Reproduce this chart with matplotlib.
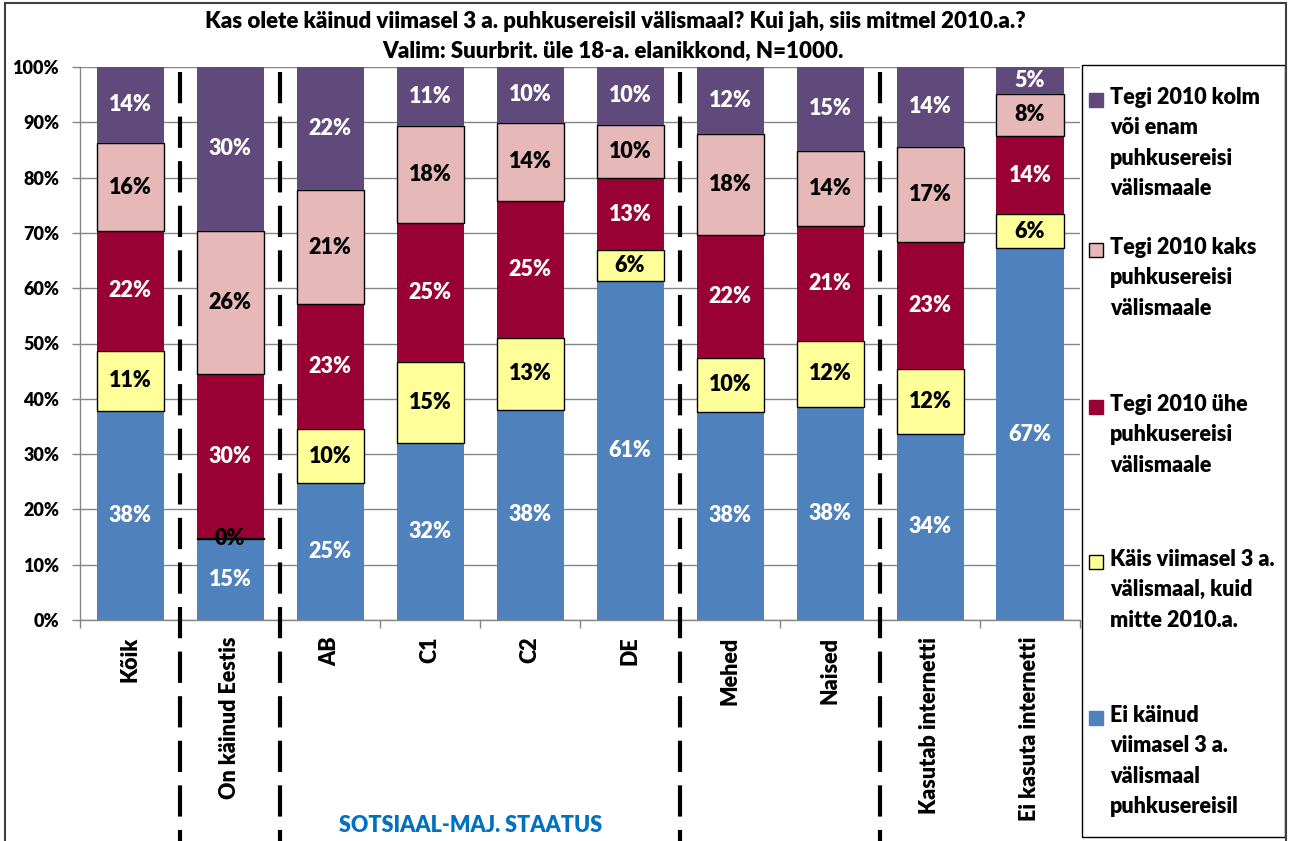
import numpy as np
import matplotlib
matplotlib.use('Agg')
import matplotlib.pyplot as plt
from matplotlib.patches import Rectangle

plt.rcParams['font.family'] = ['Lato', 'DejaVu Sans']
BOLD = 'heavy'
plt.rcParams['font.weight'] = BOLD

categories = ['Kõik', 'On käinud Eestis', 'AB', 'C1', 'C2', 'DE',
              'Mehed', 'Naised', 'Kasutab internetti', 'Ei kasuta internetti']

# shares in % (bottom to top)
ei_kainud = [37.8, 14.7, 24.7, 32.0, 38.0, 61.3, 37.7, 38.5, 33.7, 67.2]
kais_mitte_2010 = [10.9, 0.1, 9.8, 14.7, 13.0, 5.6, 9.7, 12.0, 11.6, 6.2]
uks_reis = [21.6, 29.6, 22.6, 25.0, 24.8, 13.0, 22.2, 20.7, 23.0, 14.1]
kaks_reisi = [16.0, 26.0, 20.7, 17.6, 14.1, 9.7, 18.2, 13.7, 17.3, 7.7]
kolm_voi_enam = [13.7, 29.6, 22.2, 10.7, 10.1, 10.4, 12.2, 15.1, 14.4, 4.8]

series = [
    (ei_kainud, 'Ei käinud\nviimasel 3 a.\nvälismaal\npuhkusereisil', '#4F81BD', 'none', 'white'),
    (kais_mitte_2010, 'Käis viimasel 3 a.\nvälismaal, kuid\nmitte 2010.a.', '#FFFF99', 'black', 'black'),
    (uks_reis, 'Tegi 2010 ühe\npuhkusereisi\nvälismaale', '#990033', 'none', 'white'),
    (kaks_reisi, 'Tegi 2010 kaks\npuhkusereisi\nvälismaale', '#E6B9B8', 'black', 'black'),
    (kolm_voi_enam, 'Tegi 2010 kolm\nvõi enam\npuhkusereisi\nvälismaale', '#604A7B', 'none', 'white'),
]

separators = [0.5, 1.5, 5.5, 7.5]

W, H = 1290, 841
fig = plt.figure(figsize=(W / 100, H / 100), dpi=100)
ax = fig.add_axes([80 / W, 1 - 620 / H, 1000 / W, 553 / H])

x = np.arange(len(categories))
bottom = np.zeros(len(categories))
for vals, label, color, edge, tcolor in series:
    vals = np.array(vals)
    ax.bar(x, vals, 0.67, bottom=bottom, color=color, edgecolor=edge,
           linewidth=1.0, zorder=2)
    for xi, b, v in zip(x, bottom, vals):
        ax.text(xi, b + v / 2, f'{v:.0f}%', ha='center', va='center',
                color=tcolor, fontsize=15.5, fontweight=BOLD, zorder=4)
    bottom += vals

ax.set_xlim(-0.5, len(categories) - 0.5)
ax.set_ylim(0, 100)
ax.set_yticks(np.arange(0, 101, 10))
ax.set_yticklabels([f'{v}%' for v in range(0, 101, 10)])
ax.yaxis.grid(True, color='#868686', linewidth=1.0)
ax.set_axisbelow(True)

ax.set_xticks(x)
ax.set_xticklabels(categories, rotation=90, va='top', ha='center')
ax.set_xticks(np.arange(-0.5, len(categories)), minor=True)
ax.tick_params(axis='x', which='major', length=0, pad=12, labelsize=15.5)
ax.tick_params(axis='x', which='minor', length=6, color='#868686', width=1)
ax.tick_params(axis='y', length=6, color='#868686', width=1, pad=9, labelsize=13)
for lab in ax.get_xticklabels() + ax.get_yticklabels():
    lab.set_fontweight(BOLD)

for s in ['top', 'right']:
    ax.spines[s].set_visible(False)
for s in ['left', 'bottom']:
    ax.spines[s].set_color('#868686')
    ax.spines[s].set_linewidth(1.0)

# dashed group separators
for sx in separators:
    ax.plot([sx, sx], [1 - 5 / 553, -0.42], transform=ax.get_xaxis_transform(),
            color='black', linewidth=3.0, linestyle=(0, (7.5, 3.2)),
            clip_on=False, zorder=5)

fig.text(615 / W, 1 - 22 / H,
         'Kas olete käinud viimasel 3 a. puhkusereisil välismaal? Kui jah, siis mitmel 2010.a.?',
         ha='center', va='center', fontsize=16, fontweight=BOLD)
fig.text(613 / W, 1 - 51 / H, 'Valim: Suurbrit. üle 18-a. elanikkond, N=1000.',
         ha='center', va='center', fontsize=16, fontweight=BOLD)

fig.text(471 / W, 1 - 826 / H, 'SOTSIAAL-MAJ. STAATUS', ha='center', va='center',
         fontsize=15.5, fontweight=BOLD, color='#0070C0')

# legend box
fig.patches.append(Rectangle((1082 / W, 1 - 837 / H), 203 / W, 772 / H,
                             transform=fig.transFigure, facecolor='white',
                             edgecolor='black', linewidth=1.0))
marker_y = [718, 562, 407, 250, 100]
for (vals, label, color, edge, tcolor), my in zip(series, marker_y):
    fig.patches.append(Rectangle((1089 / W, 1 - (my + 7) / H), 14 / W, 14 / H,
                                 transform=fig.transFigure, facecolor=color,
                                 edgecolor='black' if edge != 'none' else color,
                                 linewidth=1.0))
    fig.text(1110 / W, 1 - (my - 13) / H, label, ha='left', va='top',
             fontsize=15.5, fontweight=BOLD, linespacing=1.55)

# chart border
fig.patches.append(Rectangle((5 / W, -10 / H), 1281 / W, (H + 10 - 3) / H,
                             transform=fig.transFigure, facecolor='none',
                             edgecolor='#404040', linewidth=1.5))

fig.savefig('out.png', dpi=100)
